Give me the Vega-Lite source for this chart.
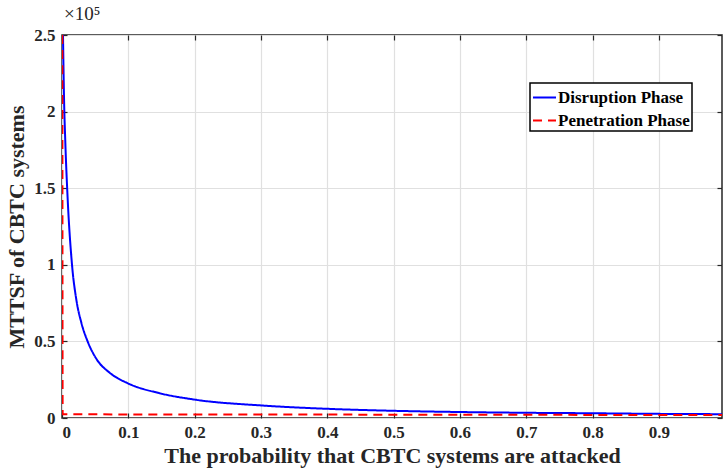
{
  "$schema": "https://vega.github.io/schema/vega-lite/v6.json",
  "width": 660,
  "height": 383,
  "autosize": {"type": "none"},
  "padding": {"left": 62, "top": 35, "right": 1, "bottom": 51},
  "background": "white",
  "title": {"text": "×10⁵", "anchor": "start", "frame": "group", "dx": 2, "offset": 2, "fontSize": 19, "font": "Liberation Serif", "fontWeight": "normal", "color": "#262626"},
  "config": {
    "font": "Liberation Serif",
    "view": {"stroke": "#262626", "strokeWidth": 1.5},
    "axis": {
      "domain": false,
      "tickColor": "#262626", "tickWidth": 1.2, "tickSize": -5,
      "gridColor": "#e0e0e0", "gridWidth": 1.2,
      "labelFont": "Liberation Serif", "labelFontWeight": "bold", "labelFontSize": 17, "labelColor": "#262626",
      "titleFont": "Liberation Serif", "titleFontWeight": "bold", "titleColor": "#262626", "titleFontSize": 22
    },
    "legend": {"strokeWidth": 1.5}
  },
  "data": {"values": [
    {"p": 0.0015, "v": 2.5, "series": "Disruption Phase"},
    {"p": 0.003, "v": 2.1, "series": "Disruption Phase"},
    {"p": 0.005, "v": 1.8, "series": "Disruption Phase"},
    {"p": 0.0081, "v": 1.47, "series": "Disruption Phase"},
    {"p": 0.0151, "v": 1.0, "series": "Disruption Phase"},
    {"p": 0.0217, "v": 0.77, "series": "Disruption Phase"},
    {"p": 0.0293, "v": 0.62, "series": "Disruption Phase"},
    {"p": 0.039, "v": 0.496, "series": "Disruption Phase"},
    {"p": 0.052, "v": 0.385, "series": "Disruption Phase"},
    {"p": 0.072, "v": 0.295, "series": "Disruption Phase"},
    {"p": 0.0995, "v": 0.226, "series": "Disruption Phase"},
    {"p": 0.147, "v": 0.162, "series": "Disruption Phase"},
    {"p": 0.2, "v": 0.12, "series": "Disruption Phase"},
    {"p": 0.3, "v": 0.082, "series": "Disruption Phase"},
    {"p": 0.4, "v": 0.06, "series": "Disruption Phase"},
    {"p": 0.5, "v": 0.047, "series": "Disruption Phase"},
    {"p": 0.6, "v": 0.039, "series": "Disruption Phase"},
    {"p": 0.7, "v": 0.034, "series": "Disruption Phase"},
    {"p": 0.8, "v": 0.031, "series": "Disruption Phase"},
    {"p": 0.9, "v": 0.027, "series": "Disruption Phase"},
    {"p": 0.995, "v": 0.025, "series": "Disruption Phase"},
    {"p": 0.0005, "v": 2.5, "series": "Penetration Phase"},
    {"p": 0.001, "v": 0.024, "series": "Penetration Phase"},
    {"p": 0.3, "v": 0.023, "series": "Penetration Phase"},
    {"p": 0.6, "v": 0.021, "series": "Penetration Phase"},
    {"p": 0.995, "v": 0.02, "series": "Penetration Phase"}
  ]},
  "layer": [
    {
      "mark": {"type": "line", "strokeWidth": 2, "clip": true, "interpolate": "monotone"},
      "encoding": {
        "x": {"field": "p", "type": "quantitative",
              "scale": {"domain": [0, 0.995], "nice": false, "zero": false},
              "axis": {"values": [0, 0.1, 0.2, 0.3, 0.4, 0.5, 0.6, 0.7, 0.8, 0.9], "format": ".1~f", "labelPadding": 11, "titlePadding": 5,
                       "title": "The probability that CBTC systems are attacked"}},
        "y": {"field": "v", "type": "quantitative",
              "scale": {"domain": [0, 2.5], "nice": false},
              "axis": {"values": [0, 0.5, 1, 1.5, 2, 2.5], "format": ".1~f", "labelPadding": 12, "titlePadding": 5,
                       "title": "MTTSF of CBTC systems"}},
        "color": {"field": "series", "type": "nominal",
                  "scale": {"domain": ["Disruption Phase", "Penetration Phase"], "range": ["#0000ff", "#ff0000"]},
                  "legend": {"orient": "none", "legendX": 468, "legendY": 48, "title": null,
                             "strokeColor": "black", "fillColor": "white", "padding": 2,
                             "symbolType": "stroke", "symbolSize": 529, "symbolStrokeWidth": 2,
                             "labelFont": "Liberation Serif", "labelFontWeight": "bold", "labelFontSize": 17, "labelColor": "black",
                             "rowPadding": 2, "labelOffset": 1}},
        "strokeDash": {"field": "series", "type": "nominal",
                       "scale": {"domain": ["Disruption Phase", "Penetration Phase"], "range": [[1, 0], [9, 6]]},
                       "legend": {"orient": "none", "legendX": 468, "legendY": 48, "title": null,
                             "strokeColor": "black", "fillColor": "white", "padding": 2,
                             "symbolType": "stroke", "symbolSize": 529, "symbolStrokeWidth": 2,
                             "labelFont": "Liberation Serif", "labelFontWeight": "bold", "labelFontSize": 17, "labelColor": "black",
                             "rowPadding": 2, "labelOffset": 1}}
      }
    },
    {
      "mark": {"type": "line", "opacity": 0},
      "encoding": {
        "x": {"field": "p", "type": "quantitative",
              "axis": {"orient": "top", "values": [0, 0.1, 0.2, 0.3, 0.4, 0.5, 0.6, 0.7, 0.8, 0.9], "labels": false, "grid": false, "title": null}},
        "y": {"field": "v", "type": "quantitative",
              "axis": {"orient": "right", "values": [0, 0.5, 1, 1.5, 2, 2.5], "labels": false, "grid": false, "title": null}}
      }
    }
  ],
  "resolve": {"axis": {"x": "independent", "y": "independent"}}
}
